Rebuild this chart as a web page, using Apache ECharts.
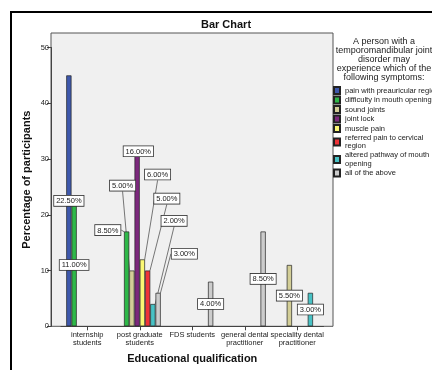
<!DOCTYPE html>
<html>
<head>
<meta charset="utf-8">
<script src="https://cdn.jsdelivr.net/npm/echarts@6/dist/echarts.min.js"></script>
<style>html,body{margin:0;padding:0;background:#fff;}#c{width:432px;height:370px;}</style>
</head>
<body>
<div id="c"></div>
<script>
// ---- data ----
const categories = ['internship\nstudents', 'post graduate\nstudents', 'FDS students', 'general dental\npractitioner', 'speciality dental\npractitioner'];
const seriesNames = ['pain with preauricular region', 'difficulty in mouth opening', 'sound joints', 'joint lock', 'muscle pain', 'referred pain to cervical\nregion', 'altered pathway of mouth\nopening', 'all of the above'];
const painPreauricular = [45, null, null, null, null];
const difficultyOpening = [22, 17, null, null, null];
const soundJoints = [null, 10, null, null, 11];
const jointLock = [null, 32, null, null, null];
const musclePain = [null, 12, null, null, null];
const referredPain = [null, 10, null, null, null];
const alteredPathway = [null, 4, null, null, 6];
const allAbove = [null, 6, 8, 17, null];
const painPreauricularLbl = ['22.50%', '', '', '', ''];
const difficultyOpeningLbl = ['11.00%', '8.50%', '', '', ''];
const soundJointsLbl = ['', '5.00%', '', '', '5.50%'];
const jointLockLbl = ['', '16.00%', '', '', ''];
const musclePainLbl = ['', '6.00%', '', '', ''];
const referredPainLbl = ['', '5.00%', '', '', ''];
const alteredPathwayLbl = ['', '2.00%', '', '', '3.00%'];
const allAboveLbl = ['', '3.00%', '4.00%', '8.50%', ''];
const yTicks = [0, 10, 20, 30, 40, 50];
const chartTitle = 'Bar Chart';
const legendTitle = 'A person with a\ntemporomandibular joint\ndisorder may\nexperience which of the\nfollowing symptoms:';

const values = [painPreauricular, difficultyOpening, soundJoints, jointLock, musclePain, referredPain, alteredPathway, allAbove];
const labels = [painPreauricularLbl, difficultyOpeningLbl, soundJointsLbl, jointLockLbl, musclePainLbl, referredPainLbl, alteredPathwayLbl, allAboveLbl];

// ---- styles ----
const colors = ['#3E58AC', '#2EB848', '#D3CE97', '#7C287D', '#FBF873', '#EF3338', '#48C2C5', '#CCCCCC'];
// label displacement (px) for the crowded post-graduate cluster, relative to bar centre
const pgLabelShift = [[0, 0], [-18, -48], [-8.5, -112], [2, -85], [16, -117.5], [20, -99], [22, -93.5], [27, -55]];
const FONT = 'Liberation Sans, Arial, sans-serif';

const chart = echarts.init(document.getElementById('c'), null, {renderer: 'canvas'});

const series = values.map((vals, si) => ({
  name: seriesNames[si],
  type: 'bar',
  xAxisIndex: 1,
  yAxisIndex: 1,
  data: vals,
  barGap: '0%',
  barCategoryGap: '20%',
  itemStyle: {color: colors[si], borderColor: '#222', borderWidth: 0.7},
  label: {
    show: true,
    position: 'inside',
    formatter: p => labels[si][p.dataIndex],
    backgroundColor: '#fff',
    borderColor: '#333',
    borderWidth: 0.8,
    padding: [1, 2, 0, 2],
    fontSize: 7.5,
    lineHeight: 9,
    color: '#222',
    fontFamily: FONT
  },
  labelLine: {show: true, lineStyle: {color: '#555', width: 0.8}},
  labelLayout: function (params) {
    if (params.dataIndex === 1) {
      const r = params.rect, lr = params.labelRect;
      return {
        x: r.x + r.width / 2 + pgLabelShift[si][0] - lr.width / 2,
        y: r.y + r.height / 2 + pgLabelShift[si][1] - lr.height / 2
      };
    }
    return {};
  }
}));

const option = {
  animation: false,
  textStyle: {fontFamily: FONT},
  legend: {
    orient: 'vertical',
    left: 333,
    top: 86,
    itemWidth: 6,
    itemHeight: 7,
    itemGap: 0.5,
    icon: 'rect',
    selectedMode: false,
    padding: 0,
    data: seriesNames,
    textStyle: {fontSize: 7.5, lineHeight: 8.5, color: '#222', fontFamily: FONT}
  },
  graphic: [
    {type: 'rect', shape: {x: 11, y: 12, width: 440, height: 380}, style: {fill: 'none', stroke: '#000', lineWidth: 2}, silent: true},
    {type: 'text', x: 226, y: 19, silent: true,
     style: {text: chartTitle, textAlign: 'center', textVerticalAlign: 'top', font: 'bold 11px ' + FONT, fill: '#111'}},
    {type: 'text', x: 384, y: 37, silent: true,
     style: {text: legendTitle, textAlign: 'center', textVerticalAlign: 'top', font: '9px ' + FONT, lineHeight: 9, fill: '#222'}}
  ],
  grid: [
    {left: 51, top: 33, width: 282, height: 293.3, show: true, backgroundColor: '#F0F0F0', borderColor: '#555', borderWidth: 1},
    {left: 61, top: 47.5, width: 262.5, height: 278.8}
  ],
  xAxis: [
    {gridIndex: 0, type: 'value', show: false, min: 0, max: 1},
    {gridIndex: 1, type: 'category', data: categories,
     axisLine: {show: true, lineStyle: {color: '#444', width: 1}},
     axisTick: {show: true, alignWithLabel: true, length: 4, lineStyle: {color: '#444'}},
     axisLabel: {interval: 0, fontSize: 7.5, lineHeight: 7.5, color: '#222', margin: 5, fontFamily: FONT},
     name: 'Educational qualification', nameLocation: 'middle', nameGap: 27,
     nameTextStyle: {fontSize: 11, fontWeight: 'bold', color: '#111', fontFamily: FONT}}
  ],
  yAxis: [
    {gridIndex: 0, type: 'value', min: 0, max: 1,
     axisLine: {show: false}, axisTick: {show: false}, axisLabel: {show: false}, splitLine: {show: false},
     name: 'Percentage of participants', nameLocation: 'middle', nameGap: 19,
     nameTextStyle: {fontSize: 11, fontWeight: 'bold', color: '#111', fontFamily: FONT}},
    {gridIndex: 1, type: 'value', min: yTicks[0], max: yTicks[yTicks.length - 1], interval: 10, offset: 10,
     axisLine: {show: true, lineStyle: {color: '#444', width: 1}},
     axisTick: {show: true, length: 4, lineStyle: {color: '#444'}},
     axisLabel: {fontSize: 7.5, color: '#222', margin: 2, fontFamily: FONT},
     splitLine: {show: false}}
  ],
  series: series
};
chart.setOption(option);
</script>
</body>
</html>
